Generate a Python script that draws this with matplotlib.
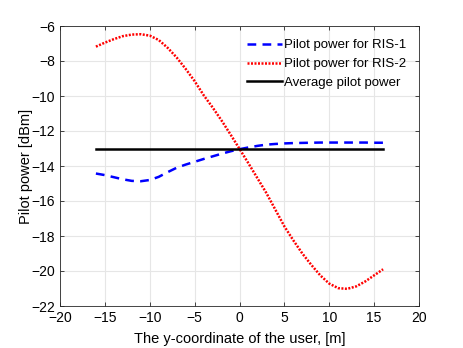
import numpy as np
import matplotlib.pyplot as plt

plt.rcParams['font.family'] = ['Liberation Sans', 'DejaVu Sans']

y_coord = list(range(-16, 17))

pilot_ris1 = [-14.43, -14.52, -14.64, -14.76, -14.85, -14.87, -14.80, -14.62,
              -14.35, -14.10, -13.92, -13.76, -13.60, -13.45, -13.30, -13.16,
              -13.04, -12.94, -12.85, -12.78, -12.74, -12.71, -12.69, -12.68,
              -12.67, -12.66, -12.66, -12.66, -12.66, -12.66, -12.66, -12.67,
              -12.67]

pilot_ris2 = [-7.18, -6.95, -6.75, -6.58, -6.49, -6.47, -6.55, -6.80,
              -7.25, -7.80, -8.45, -9.15, -9.95, -10.65, -11.40, -12.20,
              -13.02, -13.85, -14.70, -15.55, -16.50, -17.45, -18.25, -19.00,
              -19.65, -20.25, -20.72, -20.98, -21.02, -20.88, -20.60, -20.25,
              -19.90]

pilot_avg = [-13.0] * len(y_coord)

fig = plt.figure(figsize=(4.63, 3.48), dpi=100)
ax = fig.add_axes([60/463, 1 - 306/348, 359/463, 280/348])

ax.plot(y_coord, pilot_ris1, color='blue', linestyle=(0, (3.5, 2.5)), lw=1.8, label='Pilot power for RIS-1')
ax.plot(y_coord, pilot_ris2, color='red', linestyle=(0, (0.8, 0.6)), lw=1.8, label='Pilot power for RIS-2')
ax.plot(y_coord, pilot_avg, color='black', lw=1.8, label='Average pilot power')

ax.set_xlim(-20, 20)
ax.set_ylim(-22, -6)
ax.set_xticks(np.arange(-20, 21, 5))
ax.set_yticks(np.arange(-22, -5, 2))
ax.grid(True, color='#e6e6e6', lw=0.8)
ax.set_axisbelow(True)
ax.tick_params(direction='in', top=True, right=True, labelsize=10, length=3, width=0.6, color='#262626')
for s in ax.spines.values():
    s.set_linewidth(0.6)
    s.set_color('#262626')

ax.set_xlabel('The y-coordinate of the user, [m]', fontsize=10.5, labelpad=5)
ax.set_ylabel('Pilot power [dBm]', fontsize=10.5, labelpad=-1)

ax.legend(loc='upper right', frameon=False, fontsize=9.5, handlelength=2.6,
          handletextpad=0.15, borderaxespad=0.6, labelspacing=0.5)

fig.savefig('out.png', dpi=100)
